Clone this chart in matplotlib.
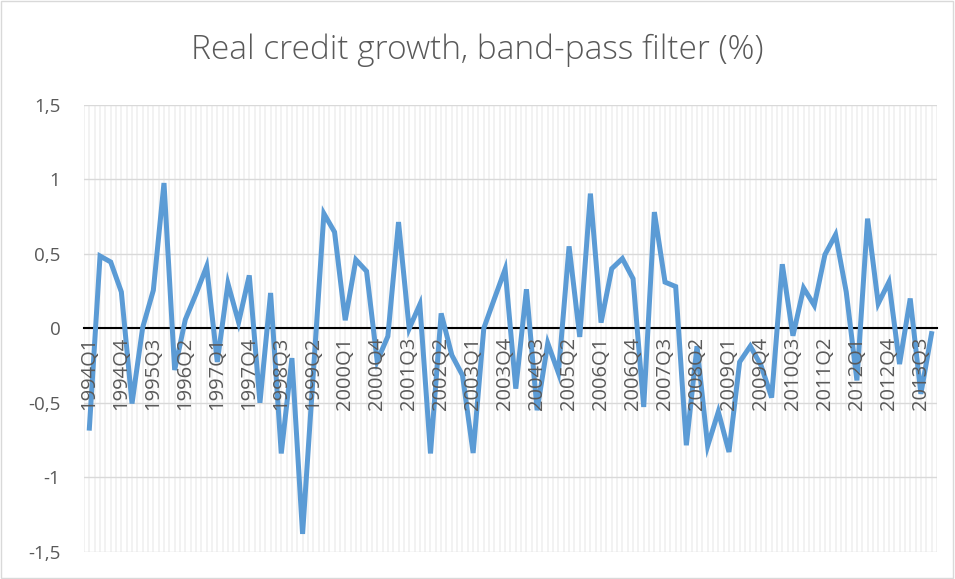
import numpy as np
import matplotlib.pyplot as plt

# quarters 1994Q1 .. 2013Q4
quarters = [f"{y}Q{q}" for y in range(1994, 2014) for q in range(1, 5)]

credit_gap = [
    -0.67, 0.485, 0.445, 0.244, -0.505, 0.005, 0.255, 0.975, -0.28, 0.058,
    0.23, 0.415, -0.226, 0.30, 0.04, 0.355, -0.50, 0.237, -0.84, -0.20,
    -1.38, -0.31, 0.77, 0.646, 0.054, 0.46, 0.383, -0.22, -0.054, 0.713,
    -0.002, 0.16, -0.84, 0.10, -0.18, -0.315, -0.837, 0.0, 0.2, 0.396,
    -0.405, 0.262, -0.55, -0.10, -0.30, 0.55, -0.058, 0.904, 0.038, 0.40,
    0.468, 0.333, -0.528, 0.78, 0.31, 0.28, -0.785, -0.12, -0.79, -0.56,
    -0.83, -0.226, -0.12, -0.248, -0.465, 0.43, -0.05, 0.27, 0.154, 0.494,
    0.628, 0.244, -0.35, 0.736, 0.166, 0.31, -0.24, 0.2, -0.44, -0.036,
]

y_ticks = [-1.5, -1, -0.5, 0, 0.5, 1, 1.5]
y_labels = ["-1,5", "-1", "-0,5", "0", "0,5", "1", "1,5"]

plt.rcParams['font.family'] = ['Open Sans', 'DejaVu Sans']

fig = plt.figure(figsize=(9.55, 5.79), dpi=100)
fig.patches.append(plt.Rectangle((0.001, 0.001), 0.997, 0.997, transform=fig.transFigure,
                                 fill=False, edgecolor='#d9d9d9', linewidth=1))
ax = fig.add_axes([0.088, 0.047, 0.893, 0.772])

for s in ['top', 'right', 'left']:
    ax.spines[s].set_visible(False)
ax.spines['bottom'].set_position(('data', 0))
ax.spines['bottom'].set_color('black')
ax.spines['bottom'].set_linewidth(1.5)
ax.spines['bottom'].set_zorder(2)

x = np.arange(len(quarters))
# line sits over the zero axis but under the quarter labels, like the original
ax.plot(x, credit_gap, color='#5b9bd5', linewidth=3.6, solid_joinstyle='miter', zorder=2.2)

ax.set_xlim(-0.5, len(quarters) - 0.5)
ax.set_ylim(-1.5, 1.5)

# light vertical grid every half quarter
for v in np.arange(-0.5, len(quarters), 0.5):
    ax.axvline(v, color='#f0f0f0', linewidth=1.2, zorder=0)
for t in y_ticks:
    ax.axhline(t, color='#d9d9d9', linewidth=1, zorder=1)

ax.set_yticks(y_ticks)
ax.set_yticklabels(y_labels)
ax.tick_params(axis='y', length=0, pad=17, labelcolor='#595959', labelsize=13.5)

tick_pos = x[::3]
ax.set_xticks(tick_pos)
ax.set_xticklabels([quarters[i] for i in tick_pos])
ax.tick_params(axis='x', length=0, pad=6, labelrotation=90, labelcolor='#595959', labelsize=14.5)
ax.xaxis.set_zorder(2.5)

fig.text(0.5, 0.914, 'Real credit growth, band-pass filter (%)', ha='center', va='center',
         fontsize=24, color='#595959', fontweight='light')

plt.savefig('out.png', dpi=100)
